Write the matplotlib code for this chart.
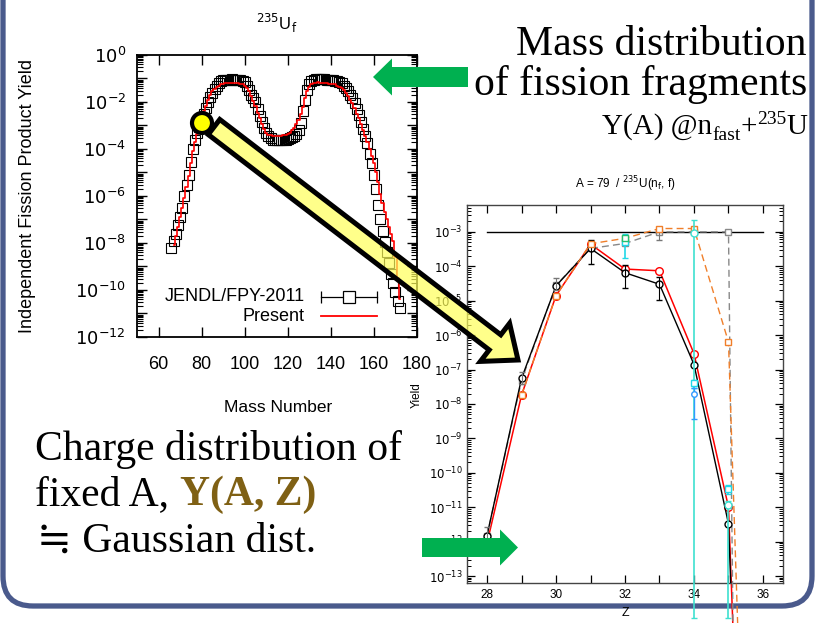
import numpy as np
import matplotlib
matplotlib.use("Agg")
import matplotlib.pyplot as plt
from matplotlib.patches import FancyArrow, FancyBboxPatch, Circle
from matplotlib.ticker import FixedLocator, NullFormatter

W, H = 817, 623
plt.rcParams['font.family'] = ['Liberation Sans', 'DejaVu Sans']
SERIF = ['Liberation Serif', 'DejaVu Serif', 'DejaVu Sans']

# ---- left chart: mass yield of 235U fast fission (log10 values) ----
mass_jendl = list(range(66, 173))
log_yield_jendl = [
    -8.2, -7.9, -7.6, -7.25, -6.9, -6.5, -6.0, -5.55, -5.1, -4.55,
    -4.0, -3.6, -3.3, -3.05, -2.75, -2.5, -2.25, -2.0, -1.8, -1.6,
    -1.45, -1.3, -1.2, -1.12, -1.08, -1.06, -1.05, -1.05, -1.04, -1.05,
    -1.05, -1.06, -1.08, -1.1, -1.15, -1.3, -1.5, -1.7, -1.85, -2.0,
    -2.3, -2.6, -2.85, -3.1, -3.3, -3.45, -3.55, -3.6, -3.62, -3.63,
    -3.63, -3.63, -3.62, -3.6, -3.58, -3.55, -3.5, -3.45, -3.35, -3.2,
    -2.9, -2.4, -1.9, -1.5, -1.25, -1.12, -1.06, -1.03, -1.02, -1.02,
    -1.03, -1.04, -1.05, -1.06, -1.07, -1.08, -1.1, -1.12, -1.15, -1.2,
    -1.3, -1.4, -1.55, -1.7, -1.85, -2.05, -2.3, -2.55, -2.85, -3.15,
    -3.45, -3.75, -4.2, -4.6, -5.1, -5.7, -6.4, -7.0, -7.5, -7.95,
    -8.4, -8.85, -9.3, -9.7, -10.1, -10.45, -10.75]
mass_present = list(range(67, 173))
log_yield_present = [
    -8.1, -7.7, -7.3, -6.9, -6.5, -6.1, -5.6, -5.15, -4.6, -4.1,
    -3.7, -3.35, -3.0, -2.7, -2.4, -2.15, -1.9, -1.7, -1.55, -1.45,
    -1.35, -1.3, -1.25, -1.22, -1.2, -1.2, -1.18, -1.18, -1.2, -1.18,
    -1.2, -1.22, -1.25, -1.3, -1.4, -1.55, -1.75, -1.95, -2.15, -2.45,
    -2.7, -2.95, -3.15, -3.3, -3.4, -3.42, -3.43, -3.43, -3.43, -3.43,
    -3.43, -3.42, -3.4, -3.35, -3.3, -3.2, -3.1, -2.95, -2.75, -2.5,
    -2.2, -1.85, -1.55, -1.35, -1.25, -1.2, -1.18, -1.15, -1.2, -1.18,
    -1.2, -1.2, -1.22, -1.22, -1.25, -1.25, -1.3, -1.35, -1.4, -1.5,
    -1.6, -1.75, -1.9, -2.05, -2.25, -2.5, -2.7, -2.95, -3.2, -3.45,
    -3.7, -4.0, -4.3, -4.6, -5.0, -5.4, -5.9, -6.3, -6.7, -7.0,
    -7.3, -7.6, -7.9, -8.6, -9.5, -10.4]

# ---- right chart: charge distribution for A = 79 ----
charge = [28, 29, 30, 31, 32, 33, 34, 35, 36]
yield_black = [1.5e-12, 5.5e-8, 2.7e-5, 3.3e-4, 6.5e-5, 3.0e-5, 1.4e-7, 3.3e-12, 1e-38]
yield_red = [9e-13, 1.8e-8, 1.4e-5, 4.4e-4, 8.3e-5, 7.4e-5, 2.9e-7, 1.0e-11, 1e-38]
yield_gray = [1.5e-12, 4.8e-8, 2.8e-5, 3.3e-4, 4.6e-4, 1.0e-3, 1.0e-3, 1.0e-3, 1e-90]
charge_orange = [29, 30, 31, 32, 33, 34, 35, 36]
yield_orange = [1.8e-8, 1.4e-5, 4.5e-4, 6.5e-4, 1.25e-3, 1.25e-3, 6.3e-7, 1e-37]
# error bars (low, high)
err_black_z = [31, 32, 33]
err_black_y = [3.3e-4, 6.5e-5, 3.0e-5]
err_black_lo = [1.2e-4, 2.4e-5, 1.07e-5]
err_black_hi = [5.7e-4, 1.07e-4, 4.9e-5]
err_gray_z = [28, 29, 30, 33]
err_gray_y = [1.5e-12, 4.8e-8, 2.8e-5, 1.0e-3]
err_gray_lo = [1.2e-12, 3.9e-8, 2.0e-5, 5.7e-4]
err_gray_hi = [2.6e-12, 8.5e-8, 4.5e-5, 1.0e-3]
cyan_circ_z = [34, 35]
cyan_circ_y = [9e-4, 1.2e-11]
cyan_circ_lo = [5.9e-15, 5.9e-15]
cyan_circ_hi = [2.2e-3, 1.5e-11]
cyan_sq_z = [32, 34, 35]
cyan_sq_y = [5.1e-4, 4.0e-8, 3.5e-11]
cyan_sq_lo = [1.7e-4, 3.0e-8, 2.5e-11]
cyan_sq_hi = [8.6e-4, 5.0e-8, 4.5e-11]
green_z, green_y = [32], [6.7e-4]
blue_z, blue_y, blue_lo, blue_hi = [34], [1.9e-8], [3.6e-9], [3.0e-8]
ref_level = 1.0e-3

fig = plt.figure(figsize=(W / 100, H / 100), dpi=100)


def rect(x0, y0, x1, y1):
    return [x0 / W, 1 - y1 / H, (x1 - x0) / W, (y1 - y0) / H]


def yerr(y, lo, hi):
    y, lo, hi = np.array(y), np.array(lo), np.array(hi)
    return [y - lo, hi - y]


# background layer: slide frame
bg = fig.add_axes([0, 0, 1, 1], zorder=0)
bg.set_xlim(0, W)
bg.set_ylim(H, 0)
bg.axis('off')
bg.add_patch(FancyBboxPatch((3, -80), 809, 686, boxstyle='round,pad=0,rounding_size=30',
                            fc='white', ec='#4a5a8c', lw=3.8))

# ---- left chart ----
ax1 = fig.add_axes(rect(137, 55, 417, 337), zorder=1)
ax1.set_yscale('log')
ax1.plot(mass_jendl, 10 ** np.array(log_yield_jendl), ls='none', marker='s', ms=6.8,
         mfc='none', mec='black', mew=0.8, zorder=2)
ax1.plot(mass_present, 10 ** np.array(log_yield_present), color='red', lw=1.2,
         drawstyle='steps-mid', zorder=3)
ax1.set_xlim(50, 180)
ax1.set_ylim(1e-12, 1)
ax1.set_xticks(range(60, 181, 20))
ax1.yaxis.set_major_locator(FixedLocator([10.0 ** -k for k in range(13)]))
ax1.set_yticklabels([r'$10^{%d}$' % -k if k % 2 == 0 else '' for k in range(13)])
ax1.yaxis.set_minor_locator(FixedLocator([m * 10.0 ** -k for k in range(1, 13) for m in range(2, 10)]))
ax1.yaxis.set_minor_formatter(NullFormatter())
ax1.tick_params(which='both', direction='in', top=True, right=True, labelsize=13)
ax1.tick_params(which='major', length=7, width=1)
ax1.tick_params(which='minor', length=4, width=0.8)
ax1.tick_params(axis='x', pad=14)
ax1.tick_params(axis='y', pad=8)
for s in ax1.spines.values():
    s.set_linewidth(1.3)
ax1.set_title(r'$^{235}$U$_\mathrm{f}$', fontsize=12, y=1.089, pad=0)
ax1.set_xlabel('Mass Number', fontsize=12.5)
ax1.xaxis.set_label_coords(0.504, -0.223)
ax1.set_ylabel('Independent Fission Product Yield', fontsize=13)
ax1.yaxis.set_label_coords(-0.36, 0.5)
# legend
ax1.text(0.60, 0.142, 'JENDL/FPY-2011', transform=ax1.transAxes, ha='right', va='center', fontsize=13)
ax1.text(0.60, 0.074, 'Present', transform=ax1.transAxes, ha='right', va='center', fontsize=13)
ax1.plot([0.657, 0.857], [0.142, 0.142], color='black', lw=0.9, transform=ax1.transAxes)
ax1.plot([0.657, 0.857], [0.142, 0.142], ls='none', marker='|', ms=8, mew=0.9, color='black',
         transform=ax1.transAxes)
ax1.plot([0.757], [0.142], ls='none', marker='s', ms=8, mfc='white', mec='black', mew=0.9,
         transform=ax1.transAxes)
ax1.plot([0.657, 0.857], [0.074, 0.074], color='red', lw=1.3, transform=ax1.transAxes)

# ---- right chart ----
ax2 = fig.add_axes(rect(467, 205, 783, 583), zorder=2)
ax2.set_yscale('log')
ax2.plot([charge[0], charge[-1]], [ref_level, ref_level], color='black', lw=1.0)
ax2.plot(charge, yield_gray, color='#888888', ls=(0, (5, 3)), lw=1.0, marker='s', ms=4.5,
         mfc='white', mec='#888888', clip_on=False, zorder=3)
ax2.plot(charge_orange, yield_orange, color='#f07f2a', ls=(0, (5, 3)), lw=1.0, marker='s',
         ms=4.5, mfc='white', mec='#f07f2a', clip_on=False, zorder=4)
ax2.plot(charge, yield_black, color='black', lw=1.0, marker='o', ms=5, mfc='white', mec='black',
         zorder=3)
ax2.plot(charge, yield_red, color='red', lw=1.1, marker='o', ms=5.5, mfc='white', mec='red',
         clip_on=False, zorder=2)
ax2.errorbar(err_black_z, err_black_y, yerr=yerr(err_black_y, err_black_lo, err_black_hi),
             fmt='none', ecolor='black', elinewidth=0.8, capsize=2, zorder=3)
ax2.errorbar(err_gray_z, err_gray_y, yerr=yerr(err_gray_y, err_gray_lo, err_gray_hi),
             fmt='none', ecolor='#777777', elinewidth=0.8, capsize=2, zorder=3)
ax2.errorbar(cyan_circ_z, cyan_circ_y, yerr=yerr(cyan_circ_y, cyan_circ_lo, cyan_circ_hi),
             fmt='o', ms=5, mfc='white', mec='#3ee0d0', ecolor='#3ee0d0', elinewidth=1.2,
             capsize=2.5, zorder=5, clip_on=False)
ax2.errorbar(cyan_sq_z, cyan_sq_y, yerr=yerr(cyan_sq_y, cyan_sq_lo, cyan_sq_hi),
             fmt='s', ms=4.5, mfc='white', mec='#20d8e8', ecolor='#20d8e8', elinewidth=1.2,
             capsize=2.5, zorder=5)
ax2.plot(green_z, green_y, ls='none', marker='s', ms=4.5, mfc='white', mec='#22c070', zorder=6)
ax2.errorbar(blue_z, blue_y, yerr=yerr(blue_y, blue_lo, blue_hi),
             fmt='o', ms=4, mfc='white', mec='#3399ff', ecolor='#3399ff', elinewidth=1,
             capsize=2, zorder=5)
ax2.set_xlim(27.42, 36.58)
ax2.set_ylim(10 ** -13.2, 10 ** -2.22)
ax2.xaxis.set_major_locator(FixedLocator(range(28, 37)))
ax2.set_xticklabels([str(z) if z % 2 == 0 else '' for z in range(28, 37)])
ax2.yaxis.set_major_locator(FixedLocator([10.0 ** -k for k in range(3, 14)]))
ax2.set_yticklabels([r'$10^{%d}$' % -k for k in range(3, 14)])
ax2.yaxis.set_minor_locator(FixedLocator([m * 10.0 ** -k for k in range(3, 15) for m in range(2, 10)]))
ax2.yaxis.set_minor_formatter(NullFormatter())
ax2.tick_params(which='both', direction='in', top=True, right=True, labelsize=8.5)
ax2.tick_params(which='major', length=6, width=0.9)
ax2.tick_params(which='minor', length=3, width=0.7)
ax2.tick_params(axis='x', pad=4)
ax2.tick_params(axis='y', pad=3)
for s in ax2.spines.values():
    s.set_linewidth(1.0)
    s.set_color('#444444')
ax2.set_title(r'A = 79  / $^{235}$U(n$_\mathrm{f}$, f)', fontsize=8.5, y=1.045, pad=0)
ax2.set_xlabel('Z', fontsize=9)
ax2.xaxis.set_label_coords(0.5, -0.063)
ax2.set_ylabel('Yield', fontsize=8.5)
ax2.yaxis.set_label_coords(-0.139, 0.497)

# ---- foreground: arrows and slide text ----
fg = fig.add_axes([0, 0, 1, 1], zorder=5)
fg.set_xlim(0, W)
fg.set_ylim(H, 0)
fg.axis('off')
fg.patch.set_alpha(0)
fg.add_patch(FancyArrow(214, 127, 304, 233, width=19, head_width=48, head_length=29,
                        length_includes_head=True, fc=(1, 1, 0.35, 0.7), ec='black', lw=3.6,
                        joinstyle='miter'))
fg.add_patch(Circle((202, 123), 10, fc='#ffff00', ec='black', lw=3))
fg.add_patch(FancyArrow(468, 77, -95, 0, width=20, head_width=37, head_length=19,
                        length_includes_head=True, color='#00b050', lw=0))
fg.add_patch(FancyArrow(422, 547.5, 96, 0, width=19, head_width=36, head_length=18,
                        length_includes_head=True, color='#00b050', lw=0))

fg.text(807, 55, 'Mass distribution', ha='right', va='baseline', fontsize=30, family=SERIF)
fg.text(807, 95, 'of fission fragments', ha='right', va='baseline', fontsize=30, family=SERIF)

# third line built from pieces, right to left
renderer = fig.canvas.get_renderer()
x = 807
for piece, size, dy in [('U', 21, 0), ('235', 14, -10), ('+', 21, 0), ('fast', 14, 6),
                        ('Y(A) @n', 21, 0)]:
    t = fg.text(x, 134 + dy, piece, ha='right', va='baseline', fontsize=size, family=SERIF)
    x -= t.get_window_extent(renderer).width

fg.text(35, 460, 'Charge distribution of', ha='left', va='baseline', fontsize=30, family=SERIF)
fg.text(35, 505, 'fixed A, ', ha='left', va='baseline', fontsize=30, family=SERIF)
fg.text(180, 505, 'Y(A, Z)', ha='left', va='baseline', fontsize=30, family=SERIF,
        weight='bold', color='#7f6014')
fg.text(37, 552, '≒ Gaussian dist.', ha='left', va='baseline', fontsize=30, family=SERIF)

fig.savefig('out.png', dpi=100)
